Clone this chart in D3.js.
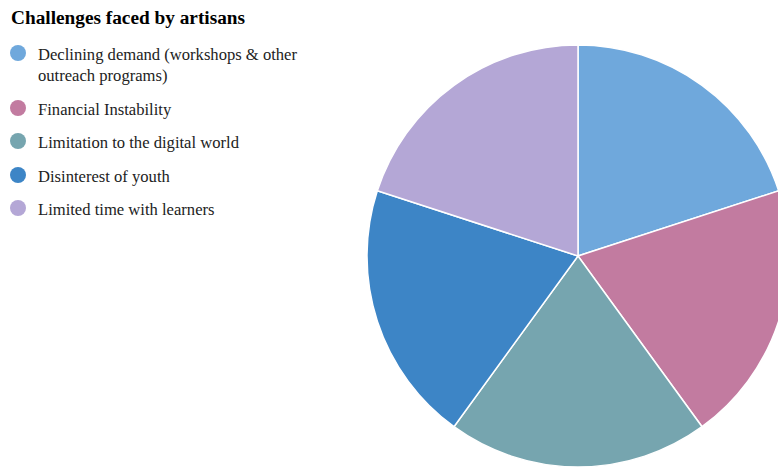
<!DOCTYPE html>
<html>
<head>
<meta charset="utf-8">
<script src="https://cdn.jsdelivr.net/npm/d3@7"></script>
<style>
  body { margin: 0; background: #fff; }
  svg { display: block; font-family: "Liberation Serif", "Times New Roman", serif; }
</style>
</head>
<body>
<div id="chart"></div>
<script>
// Chart data
const categories = [
    ['Declining demand (workshops & other', 'outreach programs)'],
    ['Financial Instability'],
    ['Limitation to the digital world'],
    ['Disinterest of youth'],
    ['Limited time with learners']
];
const values = [1, 1, 1, 1, 1];
const colors = ['#6fa8dc', '#c27ba0', '#76a5af', '#3d85c6', '#b4a7d6'];

const width = 778;
const height = 468;

const svg = d3.select('#chart')
    .append('svg')
    .attr('width', width)
    .attr('height', height);

// Title
svg.append('text')
    .attr('x', 11)
    .attr('y', 24)
    .attr('font-size', '19.3px')
    .attr('font-weight', 'bold')
    .attr('fill', '#000')
    .text('Challenges faced by artisans');

// Pie
const cx = 578, cy = 256, radius = 211;
const pie = d3.pie().sort(null).value(d => d);
const arc = d3.arc().innerRadius(0).outerRadius(radius);

svg.append('g')
    .attr('transform', `translate(${cx}, ${cy})`)
    .selectAll('path')
    .data(pie(values))
    .join('path')
    .attr('d', arc)
    .attr('fill', (d, i) => colors[i])
    .attr('stroke', '#fff')
    .attr('stroke-width', 1.5);

// Legend
const rowY = [53, 108, 141, 175, 208];
const legend = svg.append('g')
    .selectAll('g')
    .data(categories)
    .join('g')
    .attr('transform', (d, i) => `translate(0, ${rowY[i]})`);

legend.append('circle')
    .attr('cx', 18)
    .attr('cy', 0)
    .attr('r', 8)
    .attr('fill', (d, i) => colors[i]);

legend.append('text')
    .attr('x', 38)
    .attr('y', 6.5)
    .attr('font-size', '16.6px')
    .attr('fill', '#222')
    .selectAll('tspan')
    .data(d => d)
    .join('tspan')
    .attr('x', 38)
    .attr('dy', (d, i) => i === 0 ? 0 : 21)
    .text(d => d);
</script>
</body>
</html>
